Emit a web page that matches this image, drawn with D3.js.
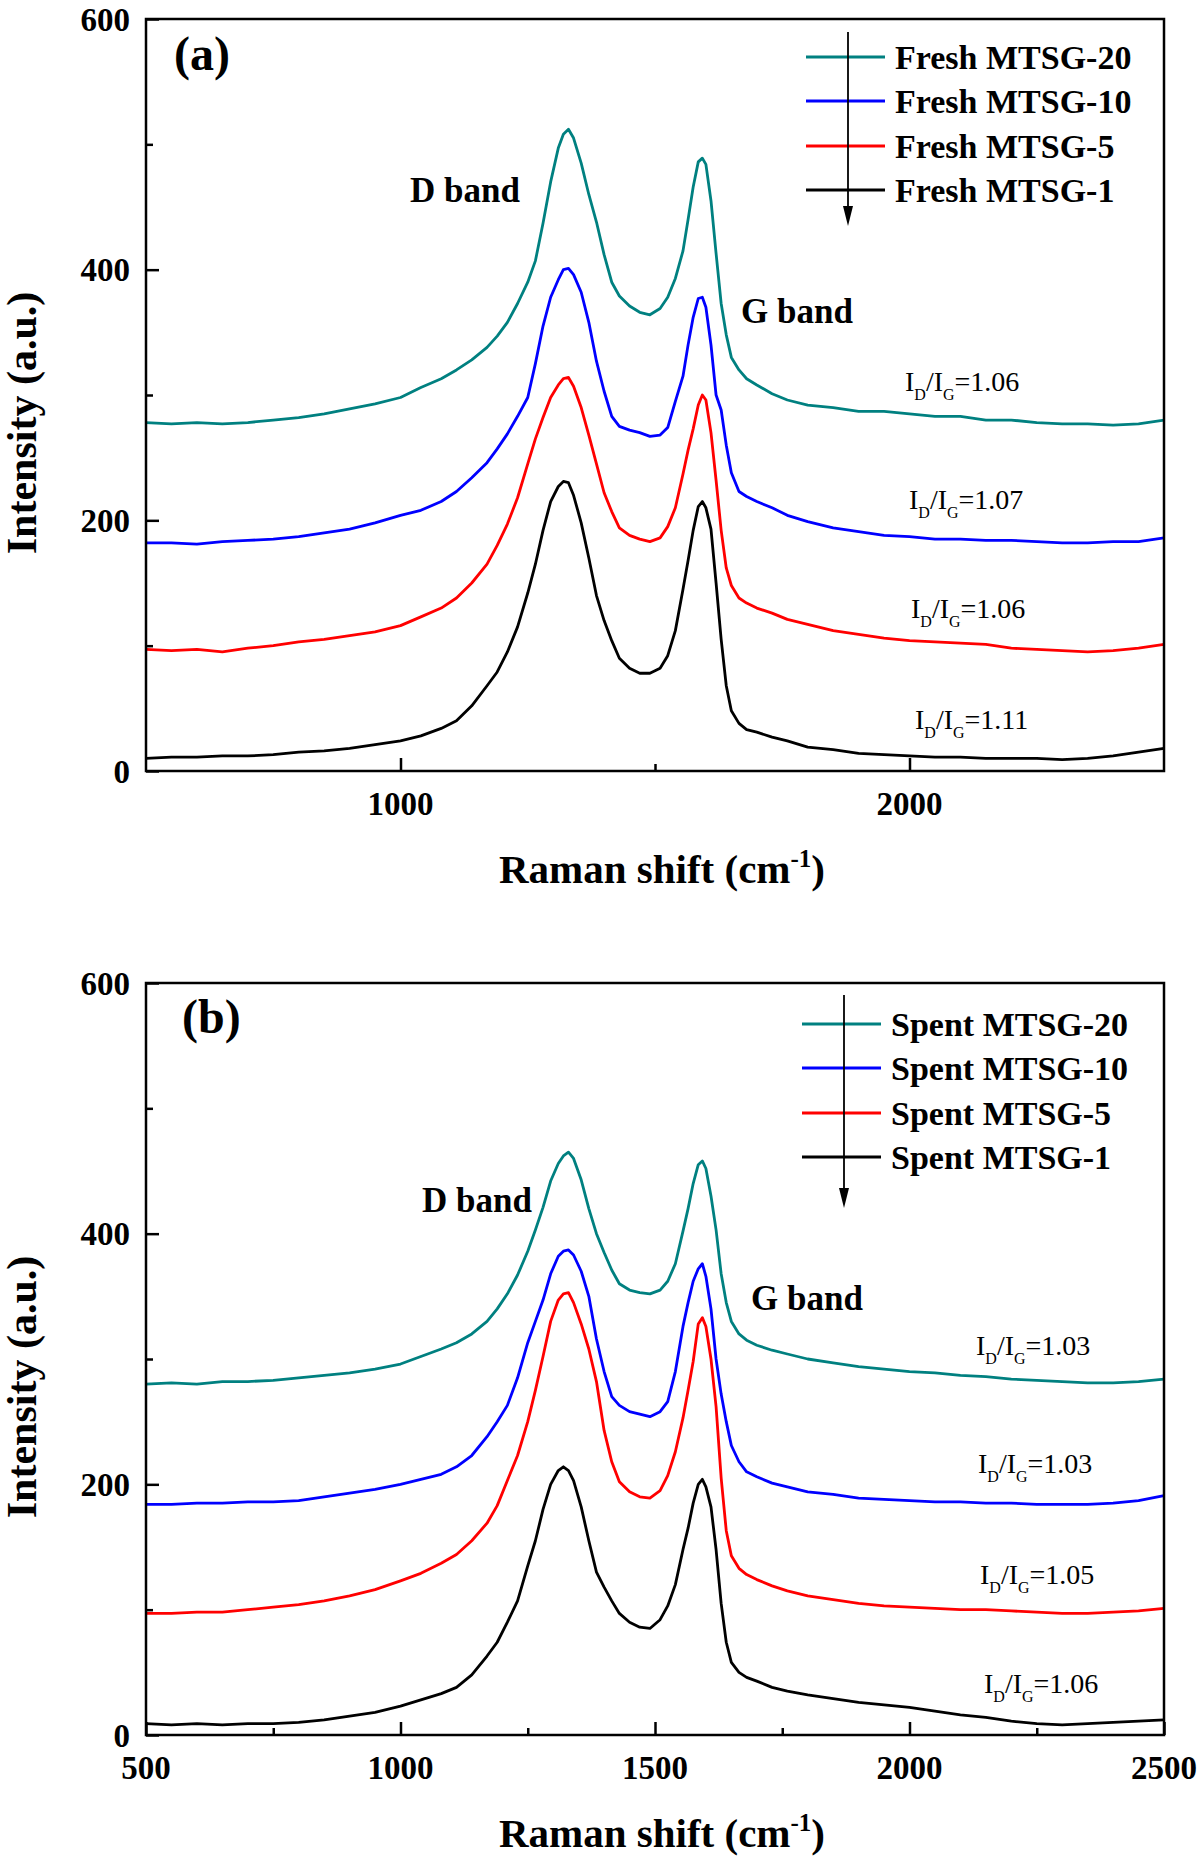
<!DOCTYPE html>
<html>
<head>
<meta charset="utf-8">
<script src="https://cdn.jsdelivr.net/npm/d3@7"></script>
<style>
  html, body { margin: 0; padding: 0; background: #fff; }
  svg { display: block; }
  text { font-family: "Liberation Serif", "Times New Roman", serif; }
</style>
</head>
<body>
<svg id="chart" width="1200" height="1864"></svg>
<script>
// Raman shift grid (cm^-1)
const ramanShift = [500,550,600,650,700,750,800,850,900,950,1000,1040,1080,1110,1140,1170,1190,1210,1230,1250,1265,1280,1295,1310,1320,1330,1340,1355,1370,1385,1400,1415,1430,1450,1470,1490,1510,1525,1540,1555,1565,1575,1585,1593,1600,1610,1620,1630,1640,1650,1665,1680,1700,1730,1760,1800,1850,1900,1950,2000,2050,2100,2150,2200,2250,2300,2350,2400,2450,2500];

// Panel (a) fresh samples
const freshMTSG20 = [278,277,278,277,278,280,282,285,289,293,298,306,313,320,328,338,347,358,373,390,407,437,470,497,508,512,505,485,460,438,412,390,379,371,366,364,369,378,393,415,440,466,486,489,484,455,413,373,348,330,320,313,308,301,296,292,290,287,287,285,283,283,280,280,278,277,277,276,277,280];
const freshMTSG10 = [182,182,181,183,184,185,187,190,193,198,204,208,215,223,234,246,257,269,283,298,325,355,378,392,400,401,396,382,358,327,303,283,275,272,270,267,268,274,295,315,340,362,377,378,370,340,300,288,260,238,223,219,215,210,204,199,194,191,188,187,185,185,184,184,183,182,182,183,183,186];
const freshMTSG5  = [97,96,97,95,98,100,103,105,108,111,116,123,130,138,150,165,180,197,218,245,265,282,298,308,313,314,307,290,268,245,222,207,194,188,185,183,186,195,210,237,256,273,292,300,296,270,232,192,162,148,138,134,130,126,121,117,112,109,106,104,103,102,101,98,97,96,95,96,98,101];
const freshMTSG1  = [10,11,11,12,12,13,15,16,18,21,24,28,34,40,52,68,79,95,115,142,165,192,215,227,231,230,220,198,170,140,120,104,90,82,78,78,82,92,112,145,168,192,211,215,210,193,150,105,68,48,38,33,31,27,24,19,17,14,13,12,11,11,10,10,10,9,10,12,15,18];

// Panel (b) spent samples
const spentMTSG20 = [280,281,280,282,282,283,285,287,289,292,296,302,308,313,320,330,340,352,367,386,403,421,442,456,462,465,460,443,420,400,385,371,360,355,353,352,355,362,376,402,420,440,455,458,452,430,403,368,345,330,320,315,311,307,304,300,297,294,292,290,289,287,286,284,283,282,281,281,282,284];
const spentMTSG10 = [184,184,185,185,186,186,187,190,193,196,200,204,208,214,223,238,250,263,285,313,330,347,368,382,386,387,383,370,350,316,290,270,263,258,256,254,258,266,290,326,345,362,372,376,366,340,300,272,250,231,218,210,206,201,198,194,192,189,188,187,186,186,185,185,184,184,184,185,187,191];
const spentMTSG5  = [97,97,98,98,100,102,104,107,111,116,123,129,137,144,155,169,183,203,223,250,275,302,330,347,352,353,345,328,308,282,243,218,202,194,190,189,195,207,226,253,275,298,328,333,326,300,262,205,163,143,133,128,124,119,115,111,108,105,103,102,101,100,100,99,98,97,97,98,99,101];
const spentMTSG1  = [9,8,9,8,9,9,10,12,15,18,23,28,33,38,48,63,74,90,107,135,155,180,200,211,214,211,203,182,155,130,118,107,97,90,86,85,92,103,120,148,165,185,200,204,198,182,148,105,74,58,50,46,43,38,35,32,29,26,24,22,19,16,14,11,9,8,9,10,11,12];

const seriesColors = ["#008080", "#0000ff", "#ff0000", "#000000"];
const freshNames = ["Fresh MTSG-20", "Fresh MTSG-10", "Fresh MTSG-5", "Fresh MTSG-1"];
const spentNames = ["Spent MTSG-20", "Spent MTSG-10", "Spent MTSG-5", "Spent MTSG-1"];
const freshRatios = ["1.06", "1.07", "1.06", "1.11"];
const spentRatios = ["1.03", "1.03", "1.05", "1.06"];
const yTicks = [0, 200, 400, 600];

const svg = d3.select("#chart");
const FONT = '"Liberation Serif", "Times New Roman", serif';

function drawPanel(cfg) {
  const x = d3.scaleLinear().domain([500, 2500]).range([146, 1164]);
  const y = d3.scaleLinear().domain([0, 600]).range([cfg.bottom, cfg.top]);
  const g = svg.append("g");

  // curves
  const line = d3.line().x((d, i) => x(ramanShift[i])).y(d => y(d)).curve(d3.curveLinear);
  cfg.series.forEach((vals, k) => {
    g.append("path").datum(vals)
      .attr("d", line)
      .attr("fill", "none")
      .attr("stroke", seriesColors[k])
      .attr("stroke-width", 2.8)
      .attr("stroke-linejoin", "round");
  });

  // y axis (ticks inward)
  const yAxis = d3.axisRight(y).tickValues(yTicks).tickSize(13).tickFormat("");
  g.append("g").attr("transform", `translate(${x(500)},0)`).call(yAxis)
    .call(a => a.select(".domain").remove())
    .call(a => a.selectAll("line").attr("stroke", "#000").attr("stroke-width", 2.5));
  const yMinor = d3.axisRight(y).tickValues([100, 300, 500]).tickSize(7).tickFormat("");
  g.append("g").attr("transform", `translate(${x(500)},0)`).call(yMinor)
    .call(a => a.select(".domain").remove())
    .call(a => a.selectAll("line").attr("stroke", "#000").attr("stroke-width", 2.5));
  yTicks.forEach(v => {
    g.append("text").attr("x", 130).attr("y", y(v)).attr("dy", "0.35em")
      .attr("text-anchor", "end").attr("font-weight", "bold").attr("font-size", 33)
      .text(v);
  });

  // x axis (ticks inward)
  const xAxis = d3.axisTop(x).tickValues(cfg.xMajor).tickSize(13).tickFormat("");
  g.append("g").attr("transform", `translate(0,${cfg.bottom})`).call(xAxis)
    .call(a => a.select(".domain").remove())
    .call(a => a.selectAll("line").attr("stroke", "#000").attr("stroke-width", 2.5));
  const xMinor = d3.axisTop(x).tickValues(cfg.xMinor).tickSize(7).tickFormat("");
  g.append("g").attr("transform", `translate(0,${cfg.bottom})`).call(xMinor)
    .call(a => a.select(".domain").remove())
    .call(a => a.selectAll("line").attr("stroke", "#000").attr("stroke-width", 2.5));
  cfg.xLabels.forEach(v => {
    g.append("text").attr("x", x(v)).attr("y", cfg.bottom + 44)
      .attr("text-anchor", "middle").attr("font-weight", "bold").attr("font-size", 33)
      .text(v);
  });

  // frame
  g.append("rect").attr("x", x(500)).attr("y", cfg.top)
    .attr("width", x(2500) - x(500)).attr("height", cfg.bottom - cfg.top)
    .attr("fill", "none").attr("stroke", "#000").attr("stroke-width", 2.5);

  // axis titles
  g.append("text")
    .attr("transform", `translate(36,${(cfg.top + cfg.bottom) / 2 + 28}) rotate(-90)`)
    .attr("text-anchor", "middle").attr("font-weight", "bold").attr("font-size", 42)
    .text("Intensity (a.u.)");
  const xt = g.append("text").attr("x", 662).attr("y", cfg.bottom + 112)
    .attr("text-anchor", "middle").attr("font-weight", "bold").attr("font-size", 41);
  xt.append("tspan").text("Raman shift (cm");
  xt.append("tspan").attr("font-size", 25).attr("dy", -16).text("-1");
  xt.append("tspan").attr("dy", 16).text(")");

  // panel letter
  g.append("text").attr("x", cfg.letterX).attr("y", cfg.letterY)
    .attr("font-weight", "bold").attr("font-size", 48).text(cfg.letter);

  // band labels
  g.append("text").attr("x", cfg.dBand[0]).attr("y", cfg.dBand[1])
    .attr("font-weight", "bold").attr("font-size", 35).text("D band");
  g.append("text").attr("x", cfg.gBand[0]).attr("y", cfg.gBand[1])
    .attr("font-weight", "bold").attr("font-size", 35).text("G band");

  // legend
  cfg.names.forEach((nm, k) => {
    const ly = cfg.legendY[k];
    g.append("line").attr("x1", cfg.legendX).attr("x2", cfg.legendX + 79)
      .attr("y1", ly).attr("y2", ly)
      .attr("stroke", seriesColors[k]).attr("stroke-width", 3.2);
    g.append("text").attr("x", cfg.legendX + 89).attr("y", ly + 12)
      .attr("font-weight", "bold").attr("font-size", 34).text(nm);
  });
  // arrow
  g.append("line").attr("x1", cfg.arrowX).attr("x2", cfg.arrowX)
    .attr("y1", cfg.arrowTop).attr("y2", cfg.arrowTip - 16)
    .attr("stroke", "#000").attr("stroke-width", 1.8);
  g.append("path")
    .attr("d", `M${cfg.arrowX - 5},${cfg.arrowTip - 20} L${cfg.arrowX + 5},${cfg.arrowTip - 20} L${cfg.arrowX},${cfg.arrowTip} Z`)
    .attr("fill", "#000");

  // ID/IG annotations
  cfg.ratios.forEach((r, k) => {
    const t = g.append("text").attr("x", cfg.ratioPos[k][0]).attr("y", cfg.ratioPos[k][1])
      .attr("font-size", 28);
    t.append("tspan").text("I");
    t.append("tspan").attr("font-size", 16).attr("dy", 9).text("D");
    t.append("tspan").attr("dy", -9).text("/I");
    t.append("tspan").attr("font-size", 16).attr("dy", 9).text("G");
    t.append("tspan").attr("dy", -9).text("=" + r);
  });
}

drawPanel({
  top: 19, bottom: 771,
  series: [freshMTSG20, freshMTSG10, freshMTSG5, freshMTSG1],
  names: freshNames, ratios: freshRatios,
  xMajor: [1000, 2000], xMinor: [1500], xLabels: [1000, 2000],
  letter: "(a)", letterX: 174, letterY: 70,
  dBand: [410, 202], gBand: [741, 323],
  legendX: 806, legendY: [57, 101, 146, 190],
  arrowX: 848, arrowTop: 32, arrowTip: 226,
  ratioPos: [[905, 391], [909, 509], [911, 618], [915, 729]]
});

drawPanel({
  top: 983, bottom: 1735,
  series: [spentMTSG20, spentMTSG10, spentMTSG5, spentMTSG1],
  names: spentNames, ratios: spentRatios,
  xMajor: [500, 1000, 1500, 2000, 2500], xMinor: [750, 1250, 1750, 2250],
  xLabels: [500, 1000, 1500, 2000, 2500],
  letter: "(b)", letterX: 182, letterY: 1033,
  dBand: [422, 1212], gBand: [751, 1310],
  legendX: 802, legendY: [1024, 1068, 1113, 1157],
  arrowX: 844, arrowTop: 995, arrowTip: 1208,
  ratioPos: [[976, 1355], [978, 1473], [980, 1584], [984, 1693]]
});
</script>
</body>
</html>
